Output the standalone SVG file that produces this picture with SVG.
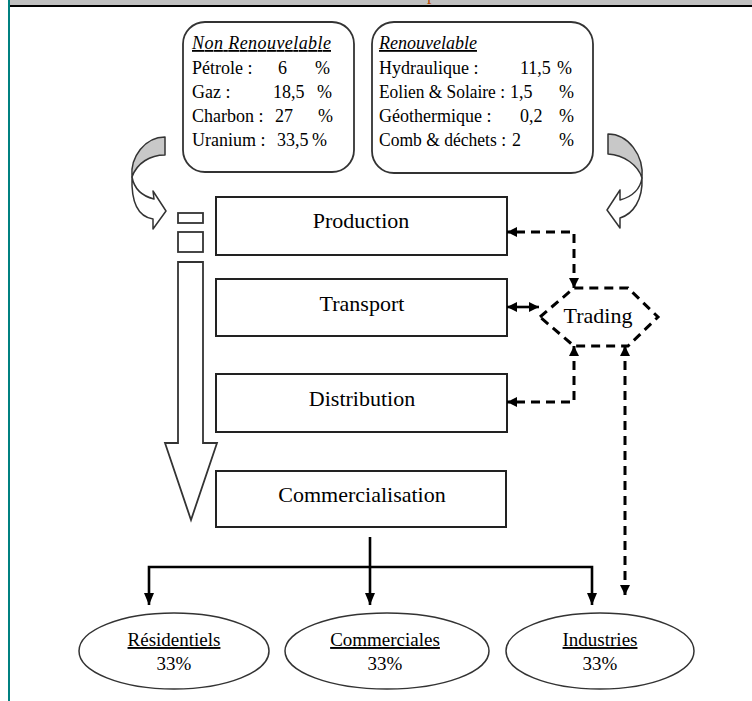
<svg xmlns="http://www.w3.org/2000/svg" width="752" height="701" viewBox="0 0 752 701">
<style>
  .serif { font-family: "Liberation Serif", "Times New Roman", serif; fill: #000; }
  .box { fill: #fff; stroke: #222; stroke-width: 2; }
  .rbox { fill: #fff; stroke: #333; stroke-width: 1.8; }
  .lbl { font-size: 22px; text-anchor: middle; }
  .small { font-size: 18px; }
  .ell { font-size: 19px; text-anchor: middle; }
  .solid { fill: none; stroke: #000; stroke-width: 2.6; }
  .dash { fill: none; stroke: #000; stroke-width: 3; stroke-dasharray: 9 6; }
  .curve { stroke: #333; stroke-width: 1.5; stroke-linejoin: round; }
</style>
<defs>
  <marker id="ah" viewBox="0 0 12 10" refX="12" refY="5" markerWidth="12" markerHeight="10" markerUnits="userSpaceOnUse" orient="auto-start-reverse">
    <path d="M0,0 L12,5 L0,10 Z" fill="#000"/>
  </marker>
  <marker id="dh" viewBox="0 0 10 10" refX="10" refY="5" markerWidth="10" markerHeight="10" markerUnits="userSpaceOnUse" orient="auto-start-reverse">
    <path d="M0,0 L10,5 L0,10 Z" fill="#000"/>
  </marker>
</defs>

<!-- page frame -->
<rect x="10" y="0" width="742" height="5" fill="#c0c0c0"/>
<text x="427" y="0" class="serif" style="font-size:18px;fill:#b84a00">p</text>
<rect x="10" y="5" width="742" height="2" fill="#000"/>
<rect x="8" y="0" width="2" height="701" fill="#008080"/>

<!-- source boxes -->
<g id="non-renouvelable">
  <rect class="rbox" x="183" y="22" width="171" height="150" rx="22" ry="22"/>
  <text class="serif small" x="192" y="49" font-style="italic" text-decoration="underline" textLength="139">Non Renouvelable</text>
  <text class="serif small" x="192" y="74">Pétrole :</text>
  <text class="serif small" x="278" y="74">6</text>
  <text class="serif small" x="315" y="74">%</text>
  <text class="serif small" x="192" y="98">Gaz :</text>
  <text class="serif small" x="273" y="98">18,5</text>
  <text class="serif small" x="317" y="98">%</text>
  <text class="serif small" x="192" y="122">Charbon :</text>
  <text class="serif small" x="275" y="122">27</text>
  <text class="serif small" x="318" y="122">%</text>
  <text class="serif small" x="192" y="146">Uranium :</text>
  <text class="serif small" x="277" y="146">33,5</text>
  <text class="serif small" x="312" y="146">%</text>
</g>
<g id="renouvelable">
  <rect class="rbox" x="372" y="22" width="221" height="151" rx="22" ry="22"/>
  <text class="serif small" x="379" y="49" font-style="italic" text-decoration="underline">Renouvelable</text>
  <text class="serif small" x="379" y="74">Hydraulique :</text>
  <text class="serif small" x="520" y="74">11,5</text>
  <text class="serif small" x="557" y="74">%</text>
  <text class="serif small" x="379" y="98" textLength="126" lengthAdjust="spacingAndGlyphs">Eolien &amp; Solaire :</text>
  <text class="serif small" x="510" y="98">1,5</text>
  <text class="serif small" x="559" y="98">%</text>
  <text class="serif small" x="379" y="122">Géothermique :</text>
  <text class="serif small" x="520" y="122">0,2</text>
  <text class="serif small" x="559" y="122">%</text>
  <text class="serif small" x="379" y="146" textLength="127" lengthAdjust="spacingAndGlyphs">Comb &amp; déchets :</text>
  <text class="serif small" x="512" y="146">2</text>
  <text class="serif small" x="559" y="146">%</text>
</g>

<!-- curved arrows -->
<g id="curve-left">
  <path class="curve" fill="#c8c8c8" d="M165,137 L165,155 C150,155 137,163 132,177 C130,157 145,137 165,137 Z"/>
  <path class="curve" fill="#fff" d="M132,177 C134,188 142,196 154,199 L153,191 L166,211 L153,229 L153,219 C140,217 131,205 132,177 Z"/>
</g>
<g id="curve-right">
  <path class="curve" fill="#c8c8c8" d="M608,134 L608,154 C624,155 638,165 642,178 C644,155 628,134 608,134 Z"/>
  <path class="curve" fill="#fff" d="M642,178 C643,200 633,214 620,218 L620,228 L607,210 L620,190 L620,200 C631,197 640,190 642,178 Z"/>
</g>

<!-- flow arrow on the left -->
<g id="flow-arrow">
  <rect class="rbox" x="178" y="213" width="25" height="10"/>
  <rect class="rbox" x="178" y="232" width="25" height="20"/>
  <path class="rbox" d="M178,262 L203,262 L203,443 L217,443 L191,520 L165,443 L178,443 Z"/>
</g>

<!-- chain boxes -->
<g id="production">
  <rect class="box" x="216" y="197" width="291" height="58"/>
  <text class="serif lbl" x="361" y="228">Production</text>
</g>
<g id="transport">
  <rect class="box" x="216" y="279" width="291" height="57"/>
  <text class="serif lbl" x="362" y="311">Transport</text>
</g>
<g id="distribution">
  <rect class="box" x="216" y="374" width="291" height="58"/>
  <text class="serif lbl" x="362" y="406">Distribution</text>
</g>
<g id="commercialisation">
  <rect class="box" x="216" y="471" width="290" height="56"/>
  <text class="serif lbl" x="362" y="502">Commercialisation</text>
</g>
<g id="trading">
  <polygon class="dash" style="fill:#fff" points="540,317 574,288 628,288 658,317 628,346 574,346"/>
  <text class="serif lbl" x="598" y="323">Trading</text>
</g>

<!-- consumers -->
<g id="residentiels">
  <ellipse cx="174" cy="651" rx="95" ry="38" fill="#fff" stroke="#333" stroke-width="1.5"/>
  <text class="serif ell" x="174" y="646" text-decoration="underline">Résidentiels</text>
  <text class="serif ell" x="174" y="670">33%</text>
</g>
<g id="commerciales">
  <ellipse cx="387" cy="651" rx="102" ry="38" fill="#fff" stroke="#333" stroke-width="1.5"/>
  <text class="serif ell" x="385" y="646" text-decoration="underline">Commerciales</text>
  <text class="serif ell" x="385" y="670">33%</text>
</g>
<g id="industries">
  <ellipse cx="600" cy="651" rx="94" ry="38" fill="#fff" stroke="#333" stroke-width="1.5"/>
  <text class="serif ell" x="600" y="646" text-decoration="underline">Industries</text>
  <text class="serif ell" x="600" y="670">33%</text>
</g>

<!-- connectors -->
<g id="connectors">
  <path class="dash" d="M574,288 L574,232 L507,232" marker-start="url(#dh)" marker-end="url(#dh)"/>
  <path class="dash" style="stroke-dasharray:none;stroke-width:2.6" d="M507,307 L539,307" marker-start="url(#dh)" marker-end="url(#dh)"/>
  <path class="dash" d="M574,346 L574,402 L507,402" marker-start="url(#dh)" marker-end="url(#dh)"/>
  <path class="dash" d="M625,346 L625,595" marker-start="url(#dh)" marker-end="url(#dh)"/>
  <path class="solid" d="M370,537 L370,605" marker-end="url(#ah)"/>
  <path class="solid" d="M149,605 L149,567 L592,567 L592,605" marker-start="url(#ah)" marker-end="url(#ah)"/>
</g>
</svg>
